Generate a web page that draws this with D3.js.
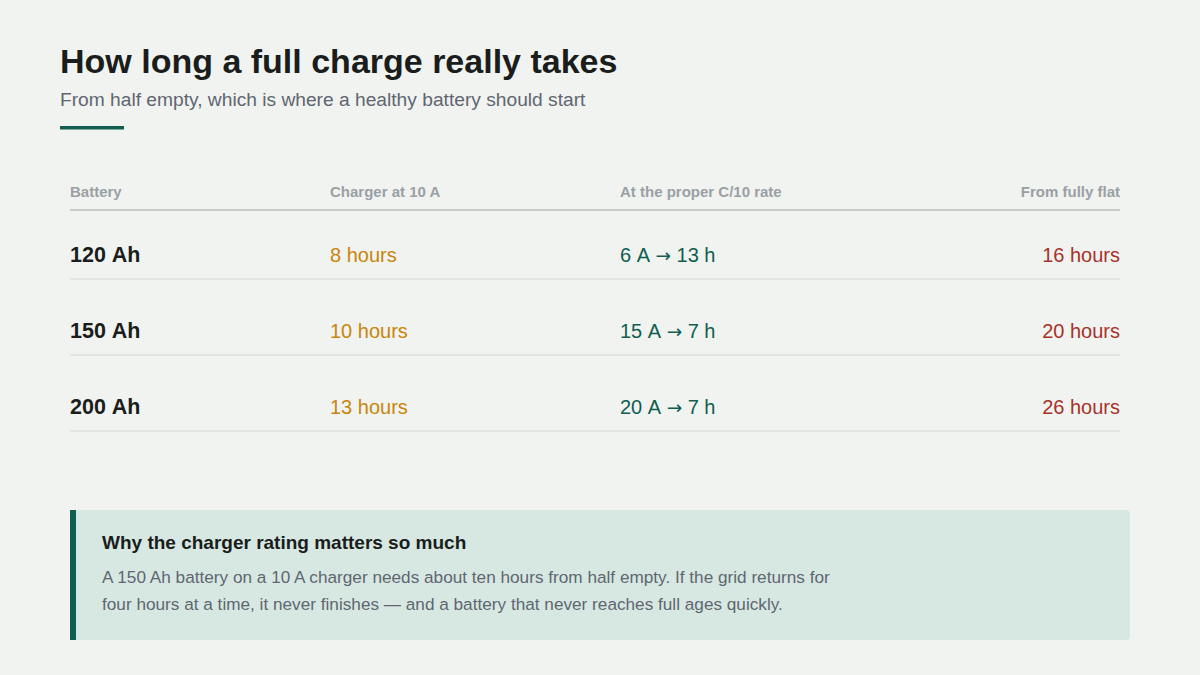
<!DOCTYPE html>
<html>
<head>
<meta charset="utf-8">
<script src="https://cdn.jsdelivr.net/npm/d3@7"></script>
<style>
  html, body { margin: 0; padding: 0; background: #f1f3f0; }
  svg { display: block; font-family: "Liberation Sans", Helvetica, Arial, sans-serif; }
  text { white-space: pre; }
</style>
</head>
<body>
<svg id="chart" width="1200" height="675"></svg>
<script>
// Data
const headers = ['Battery', 'Charger at 10 A', 'At the proper C/10 rate', 'From fully flat'];
const batteries = ['120 Ah', '150 Ah', '200 Ah'];
const chargerHours = ['8 hours', '10 hours', '13 hours'];
const properRate = ['6 A \u2192 13 h', '15 A \u2192 7 h', '20 A \u2192 7 h'];
const flatHours = ['16 hours', '20 hours', '26 hours'];

const title = 'How long a full charge really takes';
const subtitle = 'From half empty, which is where a healthy battery should start';
const noteTitle = 'Why the charger rating matters so much';
const noteLines = [
  'A 150 Ah battery on a 10 A charger needs about ten hours from half empty. If the grid returns for',
  'four hours at a time, it never finishes \u2014 and a battery that never reaches full ages quickly.'
];

const GREEN = '#0f5e50', AMBER = '#c8860b', RED = '#a8322a', INK = '#1a1d1c', GREY = '#5f6670';

let svg = d3.select('#chart');

// Title block
svg.append('text')
  .attr('x', 60).attr('y', 73)
  .attr('font-size', 34).attr('font-weight', 700)
  .attr('fill', INK)
  .text(title);

svg.append('text')
  .attr('x', 60).attr('y', 106)
  .attr('font-size', 19.2)
  .attr('fill', GREY)
  .text(subtitle);

svg.append('rect')
  .attr('x', 60).attr('y', 126)
  .attr('width', 64).attr('height', 3.5)
  .attr('fill', GREEN);

// Table scales
const LEFT = 70, RIGHT = 1120;
const xCol = d3.scaleOrdinal()
  .domain(headers)
  .range([LEFT, 330, 620, RIGHT]);
const anchorCol = d3.scaleOrdinal()
  .domain(headers)
  .range(['start', 'start', 'start', 'end']);

const yRow = d3.scaleBand()
  .domain(batteries)
  .range([203, 431])
  .paddingInner(0);

// Header row
svg.selectAll('.head')
  .data(headers)
  .enter()
  .append('text')
  .attr('class', 'head')
  .attr('x', d => xCol(d))
  .attr('y', 196.5)
  .attr('text-anchor', d => anchorCol(d))
  .attr('font-size', 15).attr('font-weight', 700)
  .attr('fill', '#9aa0a6')
  .text(d => d);

svg.append('line')
  .attr('x1', LEFT).attr('x2', RIGHT)
  .attr('y1', 210).attr('y2', 210)
  .attr('stroke', '#c9ccc8').attr('stroke-width', 2);

// Body rows
const rows = batteries.map((b, i) => ({
  cells: [
    { col: headers[0], text: b, color: INK, weight: 700, size: 21.5 },
    { col: headers[1], text: chargerHours[i], color: AMBER, weight: 400, size: 20 },
    { col: headers[2], text: properRate[i], color: GREEN, weight: 400, size: 20 },
    { col: headers[3], text: flatHours[i], color: RED, weight: 400, size: 20 }
  ],
  key: b
}));

let groups = svg.selectAll('.row')
  .data(rows)
  .enter()
  .append('g')
  .attr('class', 'row')
  .attr('transform', d => `translate(0, ${yRow(d.key)})`);

let cells = groups.selectAll('text')
  .data(d => d.cells)
  .enter()
  .append('text')
  .attr('x', d => xCol(d.col))
  .attr('y', yRow.bandwidth() / 2 + 21)
  .attr('text-anchor', d => anchorCol(d.col))
  .attr('font-size', d => d.size)
  .attr('font-weight', d => d.weight)
  .attr('fill', d => d.color);

// split on the arrow so it can use a font with a proper long arrow
cells.each(function(d) {
  let parts = d.text.split('\u2192');
  let t = d3.select(this);
  parts.forEach((p, k) => {
    if (k > 0) {
      t.append('tspan')
        .attr('font-family', '"DejaVu Sans", sans-serif')
        .attr('font-size', d.size * 0.92)
        .text('\u2192');
    }
    t.append('tspan').text(p.replace(/ /g, '\u00a0'));
  });
});

groups.append('line')
  .attr('x1', LEFT).attr('x2', RIGHT)
  .attr('y1', yRow.bandwidth()).attr('y2', yRow.bandwidth())
  .attr('stroke', '#dcdfdb').attr('stroke-width', 1.5);

// Callout
let note = svg.append('g').attr('transform', 'translate(70, 510)');

note.append('rect')
  .attr('x', 0).attr('y', 0)
  .attr('width', 1060).attr('height', 130)
  .attr('rx', 4)
  .attr('fill', '#d7e8e2');

note.append('rect')
  .attr('x', 0).attr('y', 0)
  .attr('width', 6).attr('height', 130)
  .attr('fill', GREEN);

note.append('text')
  .attr('x', 32).attr('y', 38.5)
  .attr('font-size', 19).attr('font-weight', 700)
  .attr('fill', INK)
  .text(noteTitle);

note.selectAll('.line')
  .data(noteLines)
  .enter()
  .append('text')
  .attr('class', 'line')
  .attr('x', 32)
  .attr('y', (d, i) => 73 + i * 27)
  .attr('font-size', 17.2)
  .attr('fill', GREY)
  .text(d => d);
</script>
</body>
</html>
